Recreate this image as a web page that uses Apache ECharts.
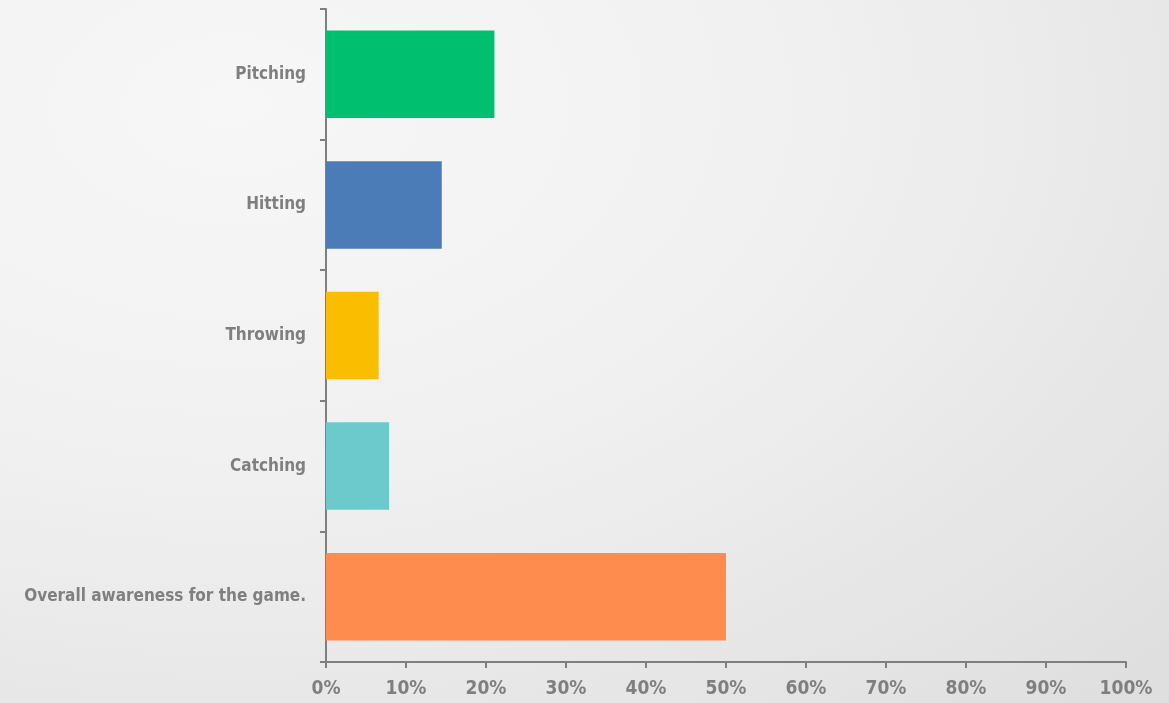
<!DOCTYPE html>
<html>
<head>
<meta charset="utf-8">
<script src="https://cdn.jsdelivr.net/npm/echarts@6/dist/echarts.min.js"></script>
<style>
html,body{margin:0;padding:0;width:1169px;height:703px;overflow:hidden;}
body{background:radial-gradient(ellipse at 20% 15%, #f7f7f7 0%, #f0f0f0 45%, #dedede 100%);}
#c{width:1169px;height:703px;}
</style>
</head>
<body>
<div id="c"></div>
<script>
const categories = ["Overall awareness for the game.", "Catching", "Throwing", "Hitting", "Pitching"];
const values = [50.0, 7.89, 6.58, 14.47, 21.05];
const colors = ["#ff8c4f", "#6ccacd", "#fbbd00", "#4c7cb8", "#00bf6f"];
const tickLabels = [0,10,20,30,40,50,60,70,80,90,100];

const font = "'DejaVu Sans Condensed', 'Liberation Sans Narrow', sans-serif";
const chart = echarts.init(document.getElementById('c'));
chart.setOption({
  backgroundColor: 'transparent',
  animation: false,
  grid: {left: 326, right: 43, top: 9, bottom: 41, containLabel: false, outerBoundsMode: 'none'},
  xAxis: {
    type: 'value', min: 0, max: 100, interval: 10,
    axisLine: {show: true, lineStyle: {color: '#7f7f7f', width: 2}},
    axisTick: {show: true, length: 6, lineStyle: {color: '#7f7f7f', width: 2}},
    splitLine: {show: false},
    axisLabel: {formatter: v => tickLabels.includes(v) ? v + '%' : '', color: '#7f7f7f', fontFamily: font, fontWeight: 'bold', fontSize: 19, margin: 18},
  },
  yAxis: {
    type: 'category', data: categories,
    axisLine: {show: true, lineStyle: {color: '#7f7f7f', width: 2}},
    axisTick: {show: true, length: 6, lineStyle: {color: '#7f7f7f', width: 2}},
    axisLabel: {color: '#7f7f7f', fontFamily: font, fontWeight: 'bold', fontSize: 17, margin: 20}
  },
  series: [{
    type: 'bar',
    data: values.map((v, i) => ({value: v, itemStyle: {color: colors[i]}})),
    barCategoryGap: '33%'
  }]
});
</script>
</body>
</html>
